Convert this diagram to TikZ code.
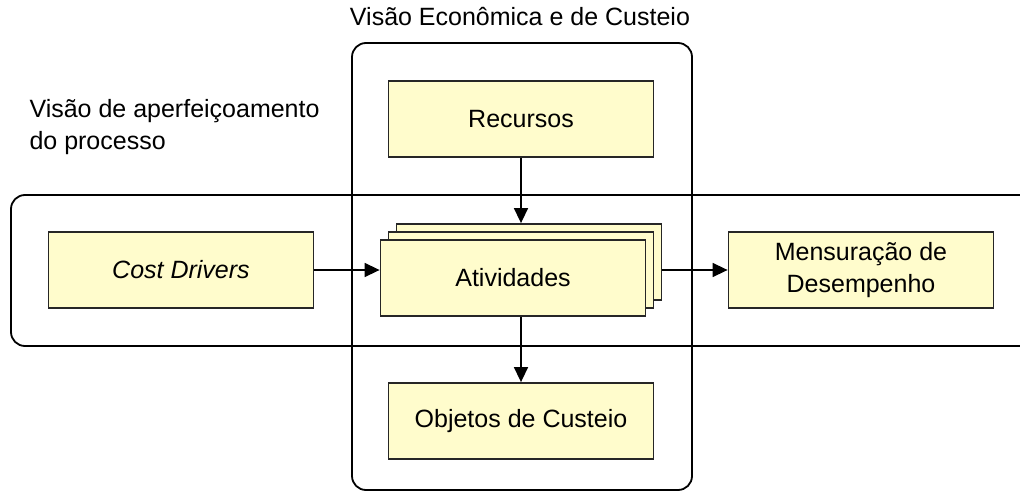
\documentclass[tikz,border=0pt]{standalone}
\usepackage{fontspec}
\setmainfont{Liberation Sans}
\usepackage{tikz}
\usetikzlibrary{arrows.meta, positioning}

\begin{document}
\begin{tikzpicture}[x=1pt, y=-1pt, >={Triangle[length=15pt, width=14pt]}, font=\fontsize{25}{32}\selectfont]
    \tikzstyle{box} = [draw=black!85, line width=1.8pt, fill=yellow!20, minimum width=265pt, minimum height=76pt, inner sep=2pt, align=center]
    \tikzstyle{frame} = [draw, line width=1.8pt, rounded corners=14pt]

    \useasboundingbox (0,0) rectangle (1020,492);
    \clip (0,0) rectangle (1020,492);

    % the two views
    \draw[frame] (352,43) rectangle (692,490);
    \draw[frame] (11,195) rectangle (1060,346);
    \node (econ) at (520,17) {Visão Econômica e de Custeio};
    \node[anchor=west, align=left] (proc) at (26,127) {Visão de aperfeiçoamento\\do processo};

    \begin{scope}
        \coordinate (ativc) at (521,270);
        \path[->, line width=1.5pt]
            node[box] (rec) at (521,119) {Recursos}
            node[box] (cost) at (181,270) {\itshape Cost Drivers}
            node[box, xshift=8pt, yshift=8pt] (ativ3) at (ativc) {}
            node[box] (ativ2) at (ativc) {}
            node[box, xshift=-8pt, yshift=-8pt] (ativ) at (ativc) {Atividades}
            node[box] (obj) at (521,421) {Objetos de Custeio}
            node[box] (mens) at (861,270) {Mensuração de\\Desempenho}

            (rec.south) edge (rec |- ativ3.north)
            (cost.east) edge (cost -| ativ.west)
            (mens -| ativ3.east) edge (mens.west)
            (obj |- ativ.south) edge (obj.north)
            ;
    \end{scope}
\end{tikzpicture}
\end{document}
